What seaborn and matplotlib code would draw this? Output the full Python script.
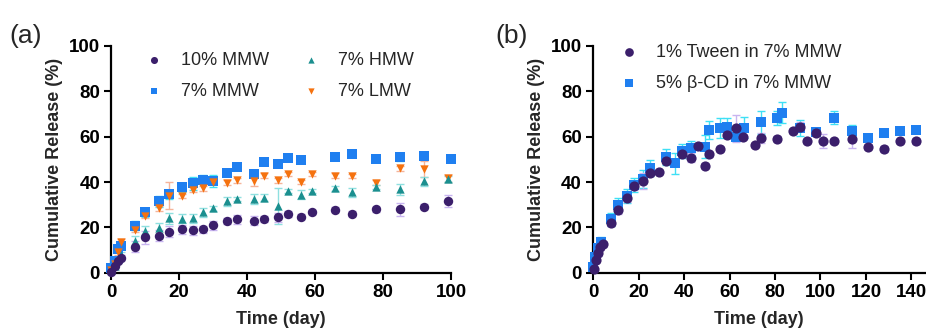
import matplotlib
matplotlib.use('Agg')
import matplotlib.pyplot as plt
import seaborn as sns
import numpy as np

# Panel (a): release of different polymer formulations
mmw10_day = [0, 1, 2, 3, 7, 10, 14, 17, 21, 24, 27, 30, 34, 37, 42, 45, 49, 52, 56, 59, 66, 71, 78, 85, 92, 99]
mmw10_rel = [0.4, 3, 5, 6.6, 11.5, 15.6, 16.3, 18.1, 19.1, 18.8, 19.1, 21, 22.8, 23.5, 22.9, 23.7, 24.4, 25.9, 24.7, 26.8, 27.8, 26, 27.9, 27.9, 29.1, 31.6]
mmw10_sd = [0.3, 0.5, 0.8, 1, 2.5, 3, 2.5, 2.5, 2, 2, 1.5, 2, 1.5, 2, 2, 1.5, 2, 1.5, 1, 1, 1, 1, 1, 3, 1, 2.5]

mmw7_day = [0, 1, 2, 3, 7, 10, 14, 17, 21, 24, 27, 30, 34, 37, 42, 45, 49, 52, 56, 66, 71, 78, 85, 92, 100]
mmw7_rel = [2, 5, 10.3, 12, 20.7, 26.6, 31.5, 34.6, 37.6, 39.4, 41, 40.4, 43.8, 46.8, 43.4, 48.7, 47.8, 50.6, 49.7, 51.2, 52.4, 50.3, 50.9, 51.3, 50.1]
mmw7_sd = [0.5, 1, 1, 1.5, 2, 2, 2.5, 2, 2, 3, 2, 2.5, 1, 1, 1, 1, 1, 1, 1, 1, 1, 1, 1.5, 1, 1]

hmw7_day = [0, 1, 2, 3, 7, 10, 14, 17, 21, 24, 27, 30, 34, 37, 42, 45, 49, 52, 56, 59, 66, 71, 78, 85, 92, 99]
hmw7_rel = [1, 3, 6, 8, 14, 18.5, 19.6, 24, 23.9, 24, 26.6, 28.4, 31.6, 32.5, 32.5, 33, 29.5, 36, 34.3, 36, 37.2, 35.4, 37.9, 36.8, 40.4, 41.3]
hmw7_sd = [0.5, 1, 1, 1, 2, 2, 2.5, 2.5, 2, 2, 2, 1, 2, 1, 2, 1.5, 8, 1, 2, 1, 1, 2, 1, 2.5, 2, 1.5]

lmw7_day = [0, 1, 2, 3, 7, 10, 14, 17, 21, 24, 27, 30, 34, 37, 42, 45, 49, 52, 56, 59, 66, 71, 78, 85, 92, 99]
lmw7_rel = [1, 4, 9, 13.7, 19, 25, 28.4, 34, 33.8, 36.7, 37.2, 40, 39.7, 40.7, 40.4, 42.8, 40.7, 43.5, 40.1, 43.5, 42.8, 42.6, 39.7, 46, 45.6, 41.6]
lmw7_sd = [0.3, 0.5, 1, 1, 1, 1, 1, 6, 1, 1, 1, 1, 1, 1, 2, 1, 1, 1, 1, 1, 1, 1, 1, 1, 3.5, 1.5]

# Panel (b): additives in 7% MMW
tween_day = [0.3, 1.2, 2, 3, 4.4, 8, 11, 15, 18, 22, 25, 29, 32, 39, 43, 46, 49, 51, 56, 59, 63, 66, 71, 74, 81, 88, 91, 94, 98, 101, 106, 114, 121, 128, 135, 142]
tween_rel = [1.5, 5.6, 8.5, 11.2, 12.5, 22, 27.6, 33.1, 38.4, 40.4, 43.8, 44.4, 49.3, 52.4, 50.7, 55.9, 47.2, 52.2, 54.6, 60.7, 63.7, 59.9, 56.3, 59.4, 59.1, 62.5, 64.4, 58.1, 61.5, 58.1, 58.1, 59.1, 55.6, 54.6, 58.1, 58.1]
tween_sd = [0.5, 1, 1, 1, 1, 1.5, 1.5, 2, 2, 3.5, 1, 1, 1, 1, 2, 1, 1, 1, 1, 1, 6, 1, 1, 2, 1, 1, 2, 1, 1, 3, 1, 4, 1, 1.5, 1, 1.5]

bcd_day = [0, 0.9, 2, 3.4, 8, 11, 15, 18, 22, 25, 32, 36, 39, 43, 49, 51, 56, 59, 63, 66.5, 74, 81, 83, 91, 98, 106, 114, 121, 128, 135, 142]
bcd_rel = [2.6, 7, 10.7, 13.7, 23.5, 29.9, 33.8, 38.7, 41.3, 46, 51.2, 48.2, 53.8, 54.9, 55.6, 62.9, 63.7, 64.1, 60, 64, 66.3, 68.1, 70.6, 64, 61.9, 68.4, 62.6, 59.6, 61.8, 62.5, 62.9]
bcd_sd = [1, 2, 2, 2, 3, 3, 3, 3, 4, 3.5, 3.5, 4.5, 3, 3, 5, 4, 4.5, 4, 2, 4.5, 5, 3, 4.5, 3.5, 1, 3, 2.5, 1, 1, 1, 1]

sns.set_style('ticks')
plt.rcParams['font.family'] = ['Liberation Sans', 'DejaVu Sans']

fig = plt.figure(figsize=(9.26, 3.33), dpi=100)
ax_a = fig.add_axes([0.120, 0.181, 0.367, 0.681])
ax_b = fig.add_axes([0.6405, 0.181, 0.3585, 0.681])


def add_series(ax, x, y, err, color, ecolor, marker, size, label):
    ax.errorbar(x, y, yerr=err, fmt='none', ecolor=ecolor, elinewidth=1.0,
                capsize=3, capthick=1.0, zorder=2, clip_on=False)
    sns.scatterplot(x=x, y=y, ax=ax, color=color, marker=marker, s=size,
                    edgecolor=color, linewidth=0, label=label, zorder=3, clip_on=False)


add_series(ax_a, mmw7_day, mmw7_rel, mmw7_sd, '#1f7ff0', '#3ee0f5', 's', 42, '7% MMW')
add_series(ax_a, lmw7_day, lmw7_rel, lmw7_sd, '#f5720f', '#f5b49a', 'v', 36, '7% LMW')
add_series(ax_a, hmw7_day, hmw7_rel, hmw7_sd, '#1b8f8f', '#8fe0e0', '^', 36, '7% HMW')
add_series(ax_a, mmw10_day, mmw10_rel, mmw10_sd, '#3b1f6b', '#c8b4f0', 'o', 46, '10% MMW')

add_series(ax_b, bcd_day, bcd_rel, bcd_sd, '#1f7ff0', '#3ee0f5', 's', 46, '5% \u03b2-CD in 7% MMW')
add_series(ax_b, tween_day, tween_rel, tween_sd, '#3b1f6b', '#c8b4f0', 'o', 54, '1% Tween in 7% MMW')

for ax, xmax, ticks in [(ax_a, 100, np.arange(0, 101, 20)), (ax_b, 146, np.arange(0, 141, 20))]:
    ax.set_xlim(0, xmax)
    ax.set_ylim(0, 100)
    ax.set_xticks(ticks)
    ax.set_yticks(np.arange(0, 101, 20))
    for lab in ax.get_xticklabels() + ax.get_yticklabels():
        lab.set_fontweight('bold')
        lab.set_fontsize(13.5)
    ax.tick_params(direction='out', length=5, width=1.5, colors='black', pad=3)
    for side in ['left', 'bottom']:
        ax.spines[side].set_linewidth(1.6)
        ax.spines[side].set_color('black')
    sns.despine(ax=ax)
    ax.set_xlabel('Time (day)', fontsize=13, fontweight='bold', labelpad=7)
    ax.set_ylabel('Cumulative Release (%)', fontsize=13, fontweight='bold', labelpad=4)

# legend order as in the figure
h, l = ax_a.get_legend_handles_labels()
order = ['10% MMW', '7% MMW', '7% HMW', '7% LMW']
hh = [h[l.index(o)] for o in order]
ax_a.legend(hh, order, ncol=2, loc='upper left', bbox_to_anchor=(0.025, 1.045), frameon=False,
            fontsize=13, handletextpad=0.5, columnspacing=1.3, labelspacing=0.75, markerscale=0.75)

h, l = ax_b.get_legend_handles_labels()
order = ['1% Tween in 7% MMW', '5% \u03b2-CD in 7% MMW']
hh = [h[l.index(o)] for o in order]
ax_b.legend(hh, order, loc='upper left', bbox_to_anchor=(0.006, 1.08), frameon=False,
            fontsize=13, handletextpad=0.5, labelspacing=0.75, markerscale=0.85)

fig.text(0.010, 0.87, '(a)', fontsize=19)
fig.text(0.535, 0.87, '(b)', fontsize=19)

fig.savefig('out.png', dpi=100)
